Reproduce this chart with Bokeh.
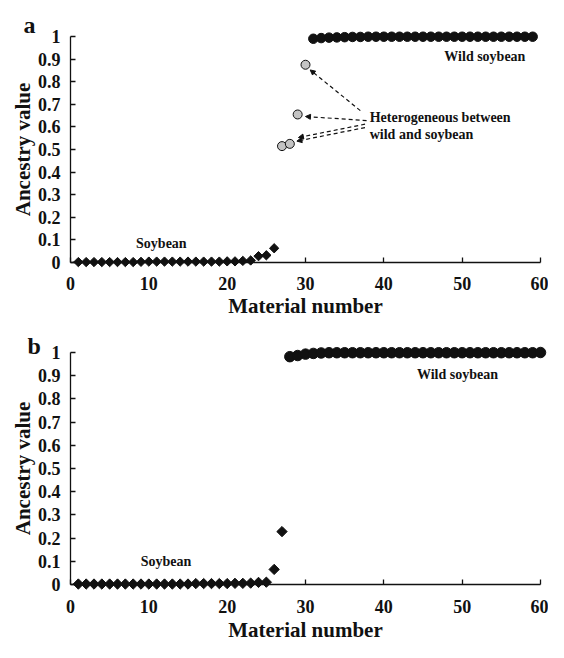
import numpy as np
from bokeh.plotting import figure
from bokeh.layouts import column
from bokeh.models import Range1d, FixedTicker, NumeralTickFormatter, Label, Arrow, NormalHead
from bokeh.embed import file_html
from bokeh.resources import INLINE

FONT = "Liberation Serif"
INK = "#111111"

# ---------------- data: panel a ----------------
a_soy_x = list(range(1, 27))
a_soy_y = [0.002, 0.002, 0.002, 0.002, 0.002, 0.002, 0.002, 0.002, 0.003, 0.004,
           0.004, 0.004, 0.004, 0.004, 0.004, 0.004, 0.004, 0.004, 0.004, 0.005,
           0.005, 0.007, 0.009, 0.028, 0.032, 0.063]
a_het_x = [27, 28, 29, 30]
a_het_y = [0.515, 0.525, 0.655, 0.875]
a_wild_x = list(range(31, 60))
a_wild_y = [0.990, 0.993, 0.995, 0.996, 0.997, 0.998, 0.998, 0.999, 0.999, 0.999,
            0.999, 0.999, 0.999, 0.999, 0.999, 0.999, 0.999, 0.999, 0.999, 0.999,
            0.999, 0.999, 0.999, 0.999, 0.999, 0.999, 0.999, 0.999, 0.999]

# ---------------- data: panel b ----------------
b_soy_x = list(range(1, 28))
b_soy_y = [0.002, 0.002, 0.002, 0.002, 0.002, 0.002, 0.002, 0.002, 0.002, 0.002,
           0.002, 0.002, 0.002, 0.002, 0.002, 0.004, 0.004, 0.004, 0.004, 0.004,
           0.005, 0.005, 0.006, 0.009, 0.010, 0.065, 0.228]
b_wild_x = list(range(28, 61))
b_wild_y = [0.982, 0.987, 0.993, 0.996, 0.998, 0.999, 0.999, 0.999, 0.999, 0.999,
            0.999, 0.999, 0.999, 0.999, 0.999, 0.999, 0.999, 0.999, 0.999, 0.999,
            0.999, 0.999, 0.999, 0.999, 0.999, 0.999, 0.999, 0.999, 0.999, 0.999,
            0.999, 0.999, 1.000]

y_ticks = [0, 0.1, 0.2, 0.3, 0.4, 0.5, 0.6, 0.7, 0.8, 0.9, 1]
x_ticks = [0, 10, 20, 30, 40, 50, 60]

x_label = "Material number"
y_label = "Ancestry value"

W = 548


def make_panel(height, y1_px, y0_px, lab_standoff, title_standoff):
    # frame fills the whole canvas; axes are drawn at x=0 / y=0 inside it
    x0_px, x60_px = 70, 540
    kx = (x60_px - x0_px) / 60.0
    ky = (y0_px - y1_px) / 1.0
    xr = Range1d(-x0_px / kx, 60 + (W - x60_px) / kx)
    yr = Range1d(-(height - y0_px) / ky, 1 + y1_px / ky)
    p = figure(width=W, height=height, output_backend="svg", toolbar_location=None,
               x_range=xr, y_range=yr,
               min_border_left=0, min_border_right=0,
               min_border_top=0, min_border_bottom=0)
    p.outline_line_color = None
    p.grid.visible = False
    p.background_fill_color = "white"
    p.border_fill_color = "white"

    for ax in (p.xaxis[0], p.yaxis[0]):
        ax.fixed_location = 0
        ax.axis_line_color = INK
        ax.axis_line_width = 1.3
        ax.major_tick_line_color = INK
        ax.major_tick_line_width = 1.3
        ax.major_tick_in = 5
        ax.major_tick_out = 0
        ax.minor_tick_line_color = None
        ax.major_label_text_font = FONT
        ax.major_label_text_font_style = "bold"
        ax.major_label_text_font_size = "18px"
        ax.major_label_text_color = INK
        ax.axis_label_text_font = FONT
        ax.axis_label_text_font_style = "bold"
        ax.axis_label_text_font_size = "21px"
        ax.axis_label_text_color = INK

    xa = p.xaxis[0]
    xa.ticker = FixedTicker(ticks=x_ticks)
    xa.bounds = (0, 60)
    xa.axis_label = x_label
    xa.major_label_standoff = lab_standoff
    xa.axis_label_standoff = title_standoff

    ya = p.yaxis[0]
    ya.ticker = FixedTicker(ticks=y_ticks)
    ya.formatter = NumeralTickFormatter(format="0.[0]")
    ya.bounds = (0, 1)
    ya.axis_label = y_label
    ya.major_label_standoff = 10
    ya.axis_label_standoff = 0
    return p


def txt(p, x, y, s, size="14px", align="center"):
    p.add_layout(Label(x=x, y=y, text=s, text_font=FONT, text_font_style="bold",
                       text_font_size=size, text_color=INK, text_align=align,
                       text_baseline="middle"))


# ---------------- panel a ----------------
pa = make_panel(318, 36, 262, 14, 1)
pa.scatter(a_soy_x, a_soy_y, marker="square", angle=np.pi / 4, size=6.6,
           fill_color=INK, line_color=INK)
pa.scatter(a_het_x, a_het_y, marker="circle", size=9, fill_color="#c4c4c4",
           line_color=INK, line_width=1)
pa.scatter(a_wild_x, a_wild_y, marker="circle", size=9.5, fill_color=INK,
           line_color=INK)

txt(pa, 52.9, 0.91, "Wild soybean")
txt(pa, 11.6, 0.082, "Soybean")
txt(pa, 38.2, 0.64, "Heterogeneous between", align="left")
txt(pa, 38.2, 0.565, "wild and soybean", align="left")

for (x0, y0, x1, y1) in [(37.0, 0.672, 30.6, 0.852),
                         (37.8, 0.628, 30.0, 0.646),
                         (37.6, 0.612, 29.1, 0.553),
                         (37.6, 0.597, 28.9, 0.537)]:
    pa.add_layout(Arrow(x_start=x0, y_start=y0, x_end=x1, y_end=y1,
                        line_color=INK, line_width=1.2, line_dash="4 3",
                        end=NormalHead(size=5, fill_color=INK, line_color=INK)))

pa.add_layout(Label(x=-6.0, y=1.053, text="a", text_font=FONT, text_font_style="bold",
                    text_font_size="24px", text_color=INK, text_align="left",
                    text_baseline="alphabetic"))

# ---------------- panel b ----------------
pb = make_panel(324, 34, 266, 15, 2)
pb.scatter(b_soy_x, b_soy_y, marker="square", angle=np.pi / 4, size=7.3,
           fill_color=INK, line_color=INK)
pb.scatter(b_wild_x, b_wild_y, marker="circle", size=10.5, fill_color=INK,
           line_color=INK)

txt(pb, 49.4, 0.906, "Wild soybean")
txt(pb, 12.2, 0.098, "Soybean")
pb.add_layout(Label(x=-5.5, y=1.03, text="b", text_font=FONT, text_font_style="bold",
                    text_font_size="24px", text_color=INK, text_align="left",
                    text_baseline="alphabetic"))

layout = column(pa, pb)
open("out.html", "w").write(file_html(layout, INLINE))
